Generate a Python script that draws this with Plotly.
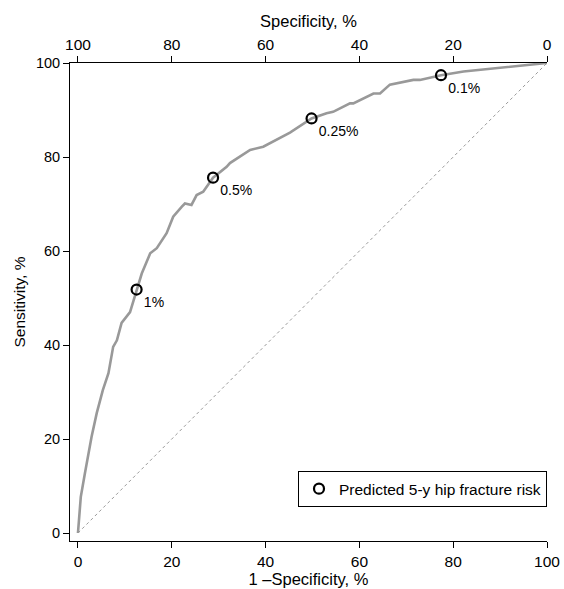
import plotly.graph_objects as go

# ROC curve (1 - specificity %, sensitivity %)
roc_fpr = [0, 0.6, 1.5, 2.9, 4.0, 5.3, 6.5, 7.5, 8.3, 9.3, 11.1, 12.5, 13.6, 15.4, 16.8,
           18.9, 20.3, 22.1, 22.8, 24.2, 25.3, 26.7, 28.8, 31.7, 32.4, 36.7, 39.5, 45.2,
           49.8, 53.0, 54.4, 58.0, 58.7, 63.0, 64.4, 66.5, 71.5, 72.9, 77.4, 82.2, 89.3,
           96.4, 100]
roc_tpr = [0, 7.7, 12.8, 20.5, 25.5, 30.4, 34.0, 39.6, 41.0, 44.7, 47.0, 51.8, 55.2, 59.5, 60.6,
           63.8, 67.3, 69.4, 70.1, 69.8, 71.9, 72.6, 75.6, 77.9, 78.7, 81.5, 82.2, 85.2,
           88.2, 89.3, 89.6, 91.4, 91.4, 93.5, 93.5, 95.4, 96.4, 96.4, 97.4, 98.2, 98.9,
           99.6, 100]

# Threshold points (predicted 5-y hip fracture risk)
thr_fpr = [12.5, 28.8, 49.8, 77.4]
thr_tpr = [51.8, 75.6, 88.2, 97.4]
thr_labels = ["1%", "0.5%", "0.25%", "0.1%"]

diag = [0, 100]
x_ticks = [0, 20, 40, 60, 80, 100]
spec_ticks = [100, 80, 60, 40, 20, 0]
y_ticks = [0, 20, 40, 60, 80, 100]

FONT = "Liberation Sans, Arial, Helvetica, sans-serif"

fig = go.Figure()
fig.add_trace(go.Scatter(x=diag, y=diag, mode="lines",
                         line=dict(color="#9a9a9a", width=1, dash="dot"),
                         showlegend=False, hoverinfo="skip"))
fig.add_trace(go.Scatter(x=roc_fpr, y=roc_tpr, mode="lines",
                         line=dict(color="#999999", width=2.6),
                         showlegend=False))
fig.add_trace(go.Scatter(x=thr_fpr, y=thr_tpr, mode="markers+text",
                         text=thr_labels, textposition="bottom right",
                         textfont=dict(size=14, color="black", family=FONT),
                         marker=dict(symbol="circle-open", size=10, color="black",
                                     line=dict(width=2.2, color="black")),
                         name="Predicted 5-y hip fracture risk", showlegend=True))
# invisible trace to anchor the top (specificity) axis
fig.add_trace(go.Scatter(x=[spec_ticks[0], spec_ticks[-1]], y=[0, 0], xaxis="x2",
                         mode="markers", marker=dict(opacity=0), showlegend=False,
                         hoverinfo="skip"))

axis_common = dict(showgrid=False, zeroline=False, showline=True, linecolor="black",
                   linewidth=1, ticks="outside", ticklen=6, tickcolor="black",
                   tickwidth=1, automargin=False)

fig.update_layout(
    width=564, height=589,
    margin=dict(l=70, r=17, t=63, b=48),
    paper_bgcolor="white", plot_bgcolor="white",
    font=dict(family=FONT, color="black", size=15),
    xaxis=dict(range=[-1.7, 100], tickvals=x_ticks, tickfont=dict(size=15.5),
               title=dict(text="1 \u2013Specificity, %", font=dict(size=16.5), standoff=4),
               **axis_common),
    xaxis2=dict(range=[101.7, 0], overlaying="x", side="top", tickvals=spec_ticks,
                tickfont=dict(size=15.5),
                title=dict(text="Specificity, %", font=dict(size=16.5), standoff=4),
                **axis_common),
    yaxis=dict(range=[-1.7, 100], tickvals=y_ticks, tickfont=dict(size=14.5),
               title=dict(text="Sensitivity, %", font=dict(size=15.5), standoff=6),
               **axis_common),
    legend=dict(x=1.0, xanchor="right", y=0.071, yanchor="bottom",
                bordercolor="black", borderwidth=1, bgcolor="white",
                font=dict(size=15.5), itemwidth=30),
    showlegend=True,
)

fig.write_html("out.html")
